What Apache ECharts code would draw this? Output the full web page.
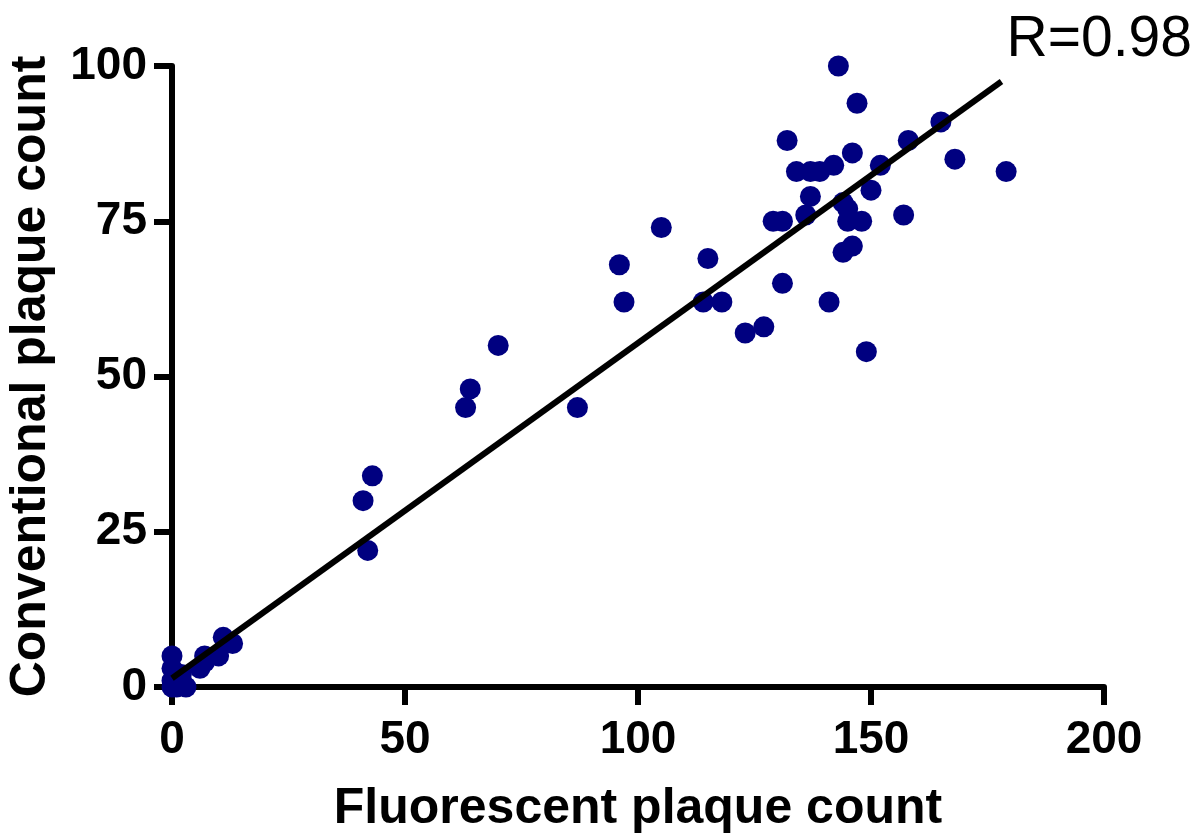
<!DOCTYPE html>
<html>

	<head>
		<meta charset="UTF-8">
		<title></title>
		<script src="https://cdn.jsdelivr.net/npm/echarts@6/dist/echarts.min.js"></script>
		<style>
			body { margin: 0; background: #fff; }
		</style>
	</head>

	<body>
		<div id="main" style="width: 1200px;height:838px;"></div>

		<script type="text/javascript">
			// fluorescent (x) vs conventional (y) plaque counts
			var fluorescent = [143, 147, 132, 146, 158, 165, 168, 179, 152, 142, 134, 137, 139, 137, 150, 144, 145, 136, 129, 131, 145, 148, 157, 144, 146, 115, 131, 114, 118, 141, 123, 127, 149,
				105, 96, 97, 70, 64, 63, 87, 43, 41, 42,
				0, 0, 0, 0, 1, 2, 3, 2, 6, 7, 7, 10, 11, 13];
			var conventional = [100, 94, 88, 86, 88, 91, 85, 83, 84, 84, 83, 83, 83, 79, 80, 78, 77, 76, 75, 75, 75, 75, 76, 70, 71, 69, 65, 62, 62, 62, 57, 58, 54,
				74, 68, 62, 55, 48, 45, 45, 34, 30, 22,
				5, 3, 1, 0, 0, 1, 0, 2, 3, 4, 5, 5, 8, 7];
			// regression line ends
			var fitX = [0, 178];
			var fitY = [1.4, 97.5];
			var xTicks = [0, 50, 100, 150, 200];
			var yTicks = [0, 25, 50, 75, 100];

			var font = 'Liberation Sans, Arial, Helvetica, sans-serif';

			var points = [];
			for(var i = 0; i < fluorescent.length; i++) {
				points.push([fluorescent[i], conventional[i]]);
			}
			var fit = [];
			for(var j = 0; j < fitX.length; j++) {
				fit.push([fitX[j], fitY[j]]);
			}

			function withAxisStyle(axis) {
				axis.splitLine = { show: false };
				axis.axisLine = { onZero: false, lineStyle: { color: '#000', width: 6 } };
				axis.axisTick = { inside: false, length: 18, lineStyle: { color: '#000', width: 6 } };
				return axis;
			}

			option = {
				animation: false,
				title: {
					text: 'R=0.98',
					right: 3,
					top: 7,
					textStyle: {
						fontFamily: font,
						fontWeight: 'normal',
						fontSize: 57,
						lineHeight: 57,
						color: '#000'
					}
				},
				grid: {
					left: 172,
					right: 96,
					top: 66,
					bottom: 151,
					outerBoundsMode: 'none',
					containLabel: false
				},
				xAxis: withAxisStyle({
					type: 'value',
					min: xTicks[0],
					max: xTicks[xTicks.length - 1],
					interval: xTicks[1] - xTicks[0],
					name: 'Fluorescent plaque count',
					nameLocation: 'middle',
					nameGap: 97,
					nameTextStyle: {
						fontFamily: font,
						fontWeight: 'bold',
						fontSize: 50,
						lineHeight: 50,
						color: '#000',
						verticalAlign: 'top'
					},
					axisLabel: {
						margin: 30,
						fontFamily: font,
						fontWeight: 'bold',
						fontSize: 46,
						lineHeight: 46,
						color: '#000'
					}
				}),
				yAxis: withAxisStyle({
					type: 'value',
					min: yTicks[0],
					max: yTicks[yTicks.length - 1],
					interval: yTicks[1] - yTicks[0],
					name: 'Conventional plaque count',
					nameLocation: 'middle',
					nameGap: 116,
					nameTextStyle: {
						fontFamily: font,
						fontWeight: 'bold',
						fontSize: 50,
						lineHeight: 50,
						color: '#000'
					},
					axisLabel: {
						margin: 25,
						fontFamily: font,
						fontWeight: 'bold',
						fontSize: 46,
						color: '#000'
					}
				}),
				series: [{
					type: 'scatter',
					data: points,
					symbol: 'circle',
					symbolSize: 21,
					itemStyle: { color: '#000080', opacity: 1 },
					z: 2
				}, {
					type: 'line',
					data: fit,
					symbol: 'none',
					lineStyle: { color: '#000', width: 6 },
					z: 3
				}]
			};

			echarts.init(document.getElementById('main')).setOption(option);
		</script>
	</body>

</html>
